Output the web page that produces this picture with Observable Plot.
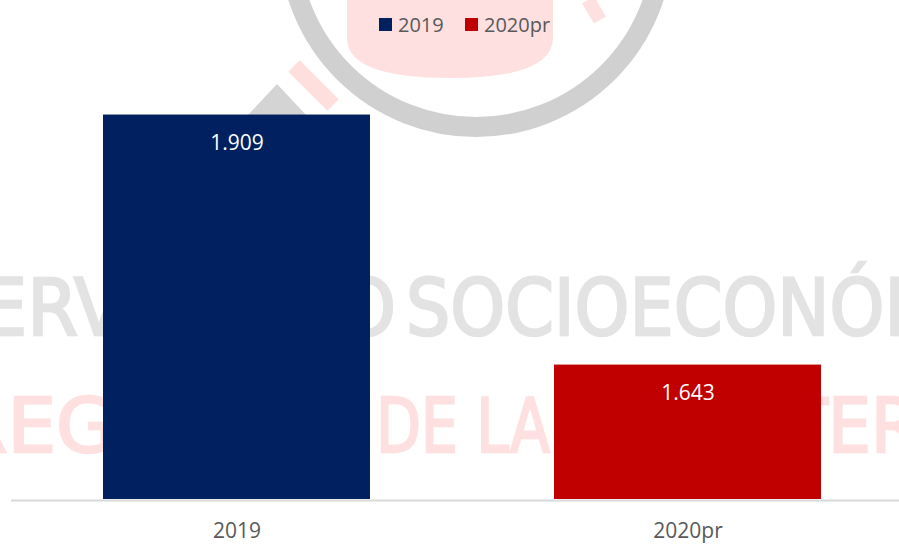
<!DOCTYPE html>
<html>
<head>
<meta charset="utf-8">
<script src="https://cdn.jsdelivr.net/npm/d3@7"></script>
<script src="https://cdn.jsdelivr.net/npm/@observablehq/plot@0.6"></script>
<style>
  html, body { margin: 0; padding: 0; background: #ffffff; }
  #wrap { position: relative; width: 899px; height: 545px; overflow: hidden; }
  #wm { position: absolute; left: 0; top: 0; }
  #content { position: relative; }
  #legend { position: relative; height: 40px; font-family: "Open Sans", sans-serif; font-size: 20px; color: #595959; }
  .lg-item { position: absolute; top: 10px; display: flex; align-items: center; height: 28px; }
  .lg-sw { width: 13px; height: 13px; margin-right: 6px; }
  .wmtext { font-family: "DejaVu Sans", sans-serif; font-weight: normal; }
</style>
</head>
<body>
<div id="wrap">
  <svg id="wm" width="899" height="545" xmlns="http://www.w3.org/2000/svg">
    <path d="M347,0 L347,38 Q347,78 450,78 Q553,78 553,38 L553,0 Z" fill="#ffe0e0"/>
    <line x1="294" y1="66" x2="333" y2="105" stroke="#ffdede" stroke-width="16"/>
    <line x1="588" y1="0" x2="600" y2="20" stroke="#ffe0e0" stroke-width="14"/>
    <polygon points="247,116 277,84 307,116" fill="#d4d4d4"/>
    <circle cx="476" cy="-60" r="187" fill="none" stroke="#d0d0d0" stroke-width="20"/>
    <g class="wmtext">
      <text y="335" font-size="78" fill="#e3e3e3" stroke="#e3e3e3" stroke-width="2.5">
        <tspan x="-172" textLength="568" lengthAdjust="spacingAndGlyphs">OBSERVATORIO</tspan>
        <tspan x="406" textLength="663" lengthAdjust="spacingAndGlyphs">SOCIOECONÓMICO</tspan>
      </text>
      <text y="452" font-size="74" fill="#ffe0e0" stroke="#ffe0e0" stroke-width="2.5">
        <tspan x="-46" textLength="398" lengthAdjust="spacingAndGlyphs">REGIONAL</tspan>
        <tspan x="376" textLength="174" lengthAdjust="spacingAndGlyphs">DE LA</tspan>
        <tspan x="596" textLength="366" lengthAdjust="spacingAndGlyphs">FRONTERA</tspan>
      </text>
    </g>
  </svg>
  <div id="content">
    <div id="legend"></div>
    <div id="chart"></div>
  </div>
</div>
<script>
// ---- data ----
const categories = ["2019", "2020pr"];
const values = [1909, 1643];
const colors = ["#002060", "#C00000"];
const yDomain = [1500, 1950];

const data = categories.map((c, i) => ({cat: c, value: values[i]}));
const es = d3.formatLocale({decimal: ",", thousands: ".", grouping: [3], currency: ["$", ""]});
const fmt = es.format(",d");

// ---- legend (HTML above the SVG) ----
const legend = document.getElementById("legend");
const legendLeft = [379, 465];
categories.forEach((c, i) => {
  const item = document.createElement("div");
  item.className = "lg-item";
  item.style.left = legendLeft[i] + "px";
  const sw = document.createElement("div");
  sw.className = "lg-sw";
  sw.style.background = colors[i];
  const t = document.createElement("span");
  t.textContent = c;
  item.appendChild(sw);
  item.appendChild(t);
  legend.appendChild(item);
});

// ---- chart ----
const chart = Plot.plot({
  width: 899,
  height: 505,
  marginTop: 36,
  marginBottom: 46,
  marginLeft: 11,
  marginRight: 0,
  style: {background: "transparent", fontFamily: "'Liberation Sans Narrow','Open Sans',sans-serif", overflow: "visible"},
  x: {domain: categories, paddingInner: 0.408, paddingOuter: 0.188, align: 0.541, label: null},
  y: {domain: yDomain, axis: null},
  color: {domain: categories, range: colors},
  marks: [
    Plot.barY(data, {x: "cat", y1: yDomain[0], y2: "value", fill: "cat"}),
    Plot.ruleY([yDomain[0]], {stroke: "#d9d9d9", strokeWidth: 2, dy: 1}),
    Plot.text(data, {
      x: "cat", y: "value", text: d => fmt(d.value),
      lineAnchor: "top", dy: 20, fill: "white",
      fontSize: 21, fontFamily: "'Open Sans', sans-serif"
    }),
    Plot.axisX({tickSize: 0, tickPadding: 24, fontSize: 21, fill: "#595959", label: null})
  ]
});
document.getElementById("chart").appendChild(chart);
</script>
</body>
</html>
